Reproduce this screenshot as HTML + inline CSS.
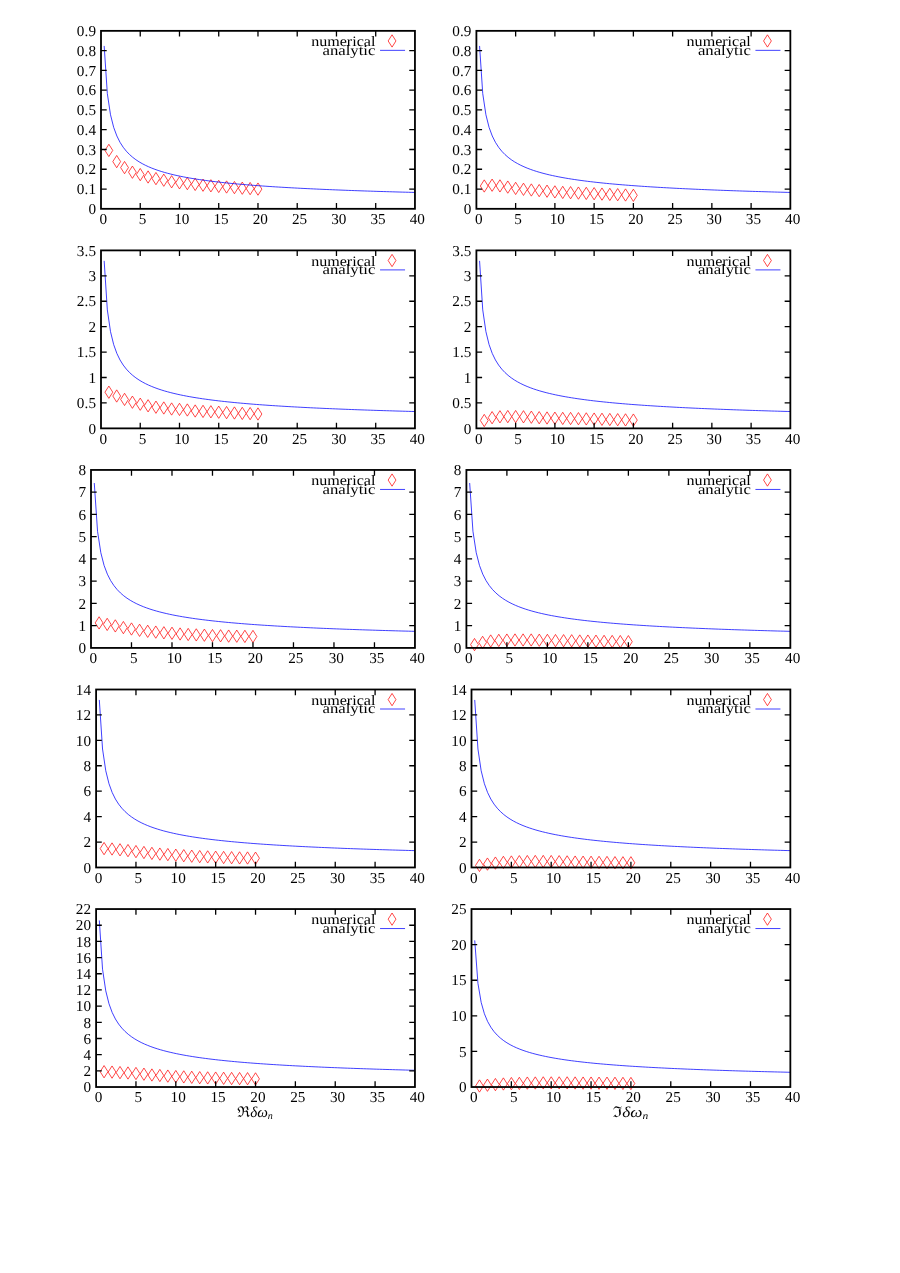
<!DOCTYPE html><html><head><meta charset="utf-8"><title>plots</title><style>html,body{margin:0;padding:0;background:#fff}svg{display:block;will-change:transform}text{text-rendering:geometricPrecision;font-family:"Liberation Serif",serif;fill:#000}</style></head><body>
<svg width="900" height="1273" viewBox="0 0 900 1273">
<rect width="900" height="1273" fill="#fff"/>
<g><text x="96.10" y="214.02" font-size="15.2" text-anchor="end" letter-spacing="0.1">0</text><text x="96.10" y="194.25" font-size="15.2" text-anchor="end" letter-spacing="0.1">0.1</text><text x="96.10" y="174.47" font-size="15.2" text-anchor="end" letter-spacing="0.1">0.2</text><text x="96.10" y="154.70" font-size="15.2" text-anchor="end" letter-spacing="0.1">0.3</text><text x="96.10" y="134.92" font-size="15.2" text-anchor="end" letter-spacing="0.1">0.4</text><text x="96.10" y="115.15" font-size="15.2" text-anchor="end" letter-spacing="0.1">0.5</text><text x="96.10" y="95.37" font-size="15.2" text-anchor="end" letter-spacing="0.1">0.6</text><text x="96.10" y="75.60" font-size="15.2" text-anchor="end" letter-spacing="0.1">0.7</text><text x="96.10" y="55.82" font-size="15.2" text-anchor="end" letter-spacing="0.1">0.8</text><text x="96.10" y="36.05" font-size="15.2" text-anchor="end" letter-spacing="0.1">0.9</text><text x="103.35" y="224.22" font-size="15.2" text-anchor="middle">0</text><text x="142.59" y="224.22" font-size="15.2" text-anchor="middle">5</text><text x="181.84" y="224.22" font-size="15.2" text-anchor="middle">10</text><text x="221.08" y="224.22" font-size="15.2" text-anchor="middle">15</text><text x="260.33" y="224.22" font-size="15.2" text-anchor="middle">20</text><text x="299.57" y="224.22" font-size="15.2" text-anchor="middle">25</text><text x="338.81" y="224.22" font-size="15.2" text-anchor="middle">30</text><text x="378.06" y="224.22" font-size="15.2" text-anchor="middle">35</text><text x="417.30" y="224.22" font-size="15.2" text-anchor="middle">40</text><path d="M108.85 144.25l3.9 6.15l-3.9 6.15l-3.9 -6.15zM116.70 155.45l3.9 6.15l-3.9 6.15l-3.9 -6.15zM124.55 161.45l3.9 6.15l-3.9 6.15l-3.9 -6.15zM132.40 166.05l3.9 6.15l-3.9 6.15l-3.9 -6.15zM140.24 168.45l3.9 6.15l-3.9 6.15l-3.9 -6.15zM148.09 170.85l3.9 6.15l-3.9 6.15l-3.9 -6.15zM155.94 172.45l3.9 6.15l-3.9 6.15l-3.9 -6.15zM163.79 174.05l3.9 6.15l-3.9 6.15l-3.9 -6.15zM171.64 175.65l3.9 6.15l-3.9 6.15l-3.9 -6.15zM179.49 176.65l3.9 6.15l-3.9 6.15l-3.9 -6.15zM187.34 177.45l3.9 6.15l-3.9 6.15l-3.9 -6.15zM195.19 178.25l3.9 6.15l-3.9 6.15l-3.9 -6.15zM203.03 179.05l3.9 6.15l-3.9 6.15l-3.9 -6.15zM210.88 179.65l3.9 6.15l-3.9 6.15l-3.9 -6.15zM218.73 180.25l3.9 6.15l-3.9 6.15l-3.9 -6.15zM226.58 180.85l3.9 6.15l-3.9 6.15l-3.9 -6.15zM234.43 181.45l3.9 6.15l-3.9 6.15l-3.9 -6.15zM242.28 182.05l3.9 6.15l-3.9 6.15l-3.9 -6.15zM250.13 182.45l3.9 6.15l-3.9 6.15l-3.9 -6.15zM257.98 182.95l3.9 6.15l-3.9 6.15l-3.9 -6.15zM392.05 34.80l3.9 6.15l-3.9 6.15l-3.9 -6.15z" fill="none" stroke="#ff0000" stroke-width="0.72"/><polyline points="104.17,45.93 107.34,93.64 110.51,114.78 113.68,127.38 116.86,135.97 120.03,142.32 123.20,147.25 126.37,151.23 129.54,154.52 132.71,157.31 135.88,159.71 139.05,161.80 142.23,163.64 145.40,165.29 148.57,166.76 151.74,168.10 154.91,169.31 158.08,170.43 161.25,171.45 164.42,172.40 167.60,173.27 170.77,174.09 173.94,174.86 177.11,175.57 180.28,176.24 183.45,176.87 186.62,177.47 189.79,178.04 192.97,178.57 196.14,179.08 199.31,179.56 202.48,180.03 205.65,180.46 208.82,180.88 211.99,181.29 215.16,181.67 218.33,182.04 221.51,182.40 224.68,182.74 227.85,183.07 231.02,183.38 234.19,183.69 237.36,183.98 240.53,184.26 243.70,184.54 246.88,184.80 250.05,185.06 253.22,185.31 256.39,185.55 259.56,185.78 262.73,186.01 265.90,186.23 269.07,186.45 272.25,186.65 275.42,186.86 278.59,187.05 281.76,187.24 284.93,187.43 288.10,187.61 291.27,187.79 294.44,187.96 297.62,188.13 300.79,188.30 303.96,188.46 307.13,188.62 310.30,188.77 313.47,188.92 316.64,189.07 319.81,189.21 322.98,189.35 326.16,189.49 329.33,189.62 332.50,189.76 335.67,189.88 338.84,190.01 342.01,190.14 345.18,190.26 348.35,190.38 351.53,190.49 354.70,190.61 357.87,190.72 361.04,190.83 364.21,190.94 367.38,191.05 370.55,191.15 373.72,191.26 376.90,191.36 380.07,191.46 383.24,191.55 386.41,191.65 389.58,191.74 392.75,191.84 395.92,191.93 399.09,192.02 402.27,192.11 405.44,192.20 408.61,192.28 411.78,192.37 414.95,192.45" fill="none" stroke="#0000ff" stroke-width="0.75"/><path d="M140.24 208.82v-5.7M140.24 30.85v5.7M179.49 208.82v-5.7M179.49 30.85v5.7M218.73 208.82v-5.7M218.73 30.85v5.7M257.98 208.82v-5.7M257.98 30.85v5.7M297.22 208.82v-5.7M297.22 30.85v5.7M336.46 208.82v-5.7M336.46 30.85v5.7M375.71 208.82v-5.7M375.71 30.85v5.7M101.00 189.05h5.7M414.95 189.05h-5.7M101.00 169.27h5.7M414.95 169.27h-5.7M101.00 149.50h5.7M414.95 149.50h-5.7M101.00 129.72h5.7M414.95 129.72h-5.7M101.00 109.95h5.7M414.95 109.95h-5.7M101.00 90.17h5.7M414.95 90.17h-5.7M101.00 70.40h5.7M414.95 70.40h-5.7M101.00 50.62h5.7M414.95 50.62h-5.7" stroke="#000" stroke-width="1.3" fill="none"/><rect x="101.00" y="30.85" width="313.95" height="177.97" fill="none" stroke="#000" stroke-width="1.8"/><text x="375.45" y="46.00" font-size="14.4" text-anchor="end" textLength="64.3" lengthAdjust="spacingAndGlyphs">numerical</text><text x="375.45" y="54.55" font-size="14.4" text-anchor="end" textLength="52.9" lengthAdjust="spacingAndGlyphs">analytic</text><path d="M380.05 50.35h25" stroke="#0000ff" stroke-width="0.75" fill="none"/></g>
<g><text x="471.50" y="214.02" font-size="15.2" text-anchor="end" letter-spacing="0.1">0</text><text x="471.50" y="194.25" font-size="15.2" text-anchor="end" letter-spacing="0.1">0.1</text><text x="471.50" y="174.47" font-size="15.2" text-anchor="end" letter-spacing="0.1">0.2</text><text x="471.50" y="154.70" font-size="15.2" text-anchor="end" letter-spacing="0.1">0.3</text><text x="471.50" y="134.92" font-size="15.2" text-anchor="end" letter-spacing="0.1">0.4</text><text x="471.50" y="115.15" font-size="15.2" text-anchor="end" letter-spacing="0.1">0.5</text><text x="471.50" y="95.37" font-size="15.2" text-anchor="end" letter-spacing="0.1">0.6</text><text x="471.50" y="75.60" font-size="15.2" text-anchor="end" letter-spacing="0.1">0.7</text><text x="471.50" y="55.82" font-size="15.2" text-anchor="end" letter-spacing="0.1">0.8</text><text x="471.50" y="36.05" font-size="15.2" text-anchor="end" letter-spacing="0.1">0.9</text><text x="478.75" y="224.22" font-size="15.2" text-anchor="middle">0</text><text x="517.99" y="224.22" font-size="15.2" text-anchor="middle">5</text><text x="557.24" y="224.22" font-size="15.2" text-anchor="middle">10</text><text x="596.48" y="224.22" font-size="15.2" text-anchor="middle">15</text><text x="635.73" y="224.22" font-size="15.2" text-anchor="middle">20</text><text x="674.97" y="224.22" font-size="15.2" text-anchor="middle">25</text><text x="714.21" y="224.22" font-size="15.2" text-anchor="middle">30</text><text x="753.46" y="224.22" font-size="15.2" text-anchor="middle">35</text><text x="792.70" y="224.22" font-size="15.2" text-anchor="middle">40</text><path d="M484.25 179.85l3.9 6.15l-3.9 6.15l-3.9 -6.15zM492.10 179.05l3.9 6.15l-3.9 6.15l-3.9 -6.15zM499.95 179.75l3.9 6.15l-3.9 6.15l-3.9 -6.15zM507.79 180.95l3.9 6.15l-3.9 6.15l-3.9 -6.15zM515.64 182.25l3.9 6.15l-3.9 6.15l-3.9 -6.15zM523.49 183.15l3.9 6.15l-3.9 6.15l-3.9 -6.15zM531.34 183.85l3.9 6.15l-3.9 6.15l-3.9 -6.15zM539.19 184.45l3.9 6.15l-3.9 6.15l-3.9 -6.15zM547.04 185.05l3.9 6.15l-3.9 6.15l-3.9 -6.15zM554.89 185.75l3.9 6.15l-3.9 6.15l-3.9 -6.15zM562.74 186.25l3.9 6.15l-3.9 6.15l-3.9 -6.15zM570.58 186.55l3.9 6.15l-3.9 6.15l-3.9 -6.15zM578.43 186.95l3.9 6.15l-3.9 6.15l-3.9 -6.15zM586.28 187.25l3.9 6.15l-3.9 6.15l-3.9 -6.15zM594.13 187.55l3.9 6.15l-3.9 6.15l-3.9 -6.15zM601.98 187.95l3.9 6.15l-3.9 6.15l-3.9 -6.15zM609.83 188.25l3.9 6.15l-3.9 6.15l-3.9 -6.15zM617.68 188.55l3.9 6.15l-3.9 6.15l-3.9 -6.15zM625.53 188.85l3.9 6.15l-3.9 6.15l-3.9 -6.15zM633.38 189.15l3.9 6.15l-3.9 6.15l-3.9 -6.15zM767.45 34.80l3.9 6.15l-3.9 6.15l-3.9 -6.15z" fill="none" stroke="#ff0000" stroke-width="0.72"/><polyline points="479.57,45.93 482.74,93.64 485.91,114.78 489.08,127.38 492.26,135.97 495.43,142.32 498.60,147.25 501.77,151.23 504.94,154.52 508.11,157.31 511.28,159.71 514.45,161.80 517.63,163.64 520.80,165.29 523.97,166.76 527.14,168.10 530.31,169.31 533.48,170.43 536.65,171.45 539.82,172.40 543.00,173.27 546.17,174.09 549.34,174.86 552.51,175.57 555.68,176.24 558.85,176.87 562.02,177.47 565.19,178.04 568.37,178.57 571.54,179.08 574.71,179.56 577.88,180.03 581.05,180.46 584.22,180.88 587.39,181.29 590.56,181.67 593.73,182.04 596.91,182.40 600.08,182.74 603.25,183.07 606.42,183.38 609.59,183.69 612.76,183.98 615.93,184.26 619.10,184.54 622.28,184.80 625.45,185.06 628.62,185.31 631.79,185.55 634.96,185.78 638.13,186.01 641.30,186.23 644.47,186.45 647.65,186.65 650.82,186.86 653.99,187.05 657.16,187.24 660.33,187.43 663.50,187.61 666.67,187.79 669.84,187.96 673.02,188.13 676.19,188.30 679.36,188.46 682.53,188.62 685.70,188.77 688.87,188.92 692.04,189.07 695.21,189.21 698.38,189.35 701.56,189.49 704.73,189.62 707.90,189.76 711.07,189.88 714.24,190.01 717.41,190.14 720.58,190.26 723.75,190.38 726.93,190.49 730.10,190.61 733.27,190.72 736.44,190.83 739.61,190.94 742.78,191.05 745.95,191.15 749.12,191.26 752.30,191.36 755.47,191.46 758.64,191.55 761.81,191.65 764.98,191.74 768.15,191.84 771.32,191.93 774.49,192.02 777.67,192.11 780.84,192.20 784.01,192.28 787.18,192.37 790.35,192.45" fill="none" stroke="#0000ff" stroke-width="0.75"/><path d="M515.64 208.82v-5.7M515.64 30.85v5.7M554.89 208.82v-5.7M554.89 30.85v5.7M594.13 208.82v-5.7M594.13 30.85v5.7M633.38 208.82v-5.7M633.38 30.85v5.7M672.62 208.82v-5.7M672.62 30.85v5.7M711.86 208.82v-5.7M711.86 30.85v5.7M751.11 208.82v-5.7M751.11 30.85v5.7M476.40 189.05h5.7M790.35 189.05h-5.7M476.40 169.27h5.7M790.35 169.27h-5.7M476.40 149.50h5.7M790.35 149.50h-5.7M476.40 129.72h5.7M790.35 129.72h-5.7M476.40 109.95h5.7M790.35 109.95h-5.7M476.40 90.17h5.7M790.35 90.17h-5.7M476.40 70.40h5.7M790.35 70.40h-5.7M476.40 50.62h5.7M790.35 50.62h-5.7" stroke="#000" stroke-width="1.3" fill="none"/><rect x="476.40" y="30.85" width="313.95" height="177.97" fill="none" stroke="#000" stroke-width="1.8"/><text x="750.85" y="46.00" font-size="14.4" text-anchor="end" textLength="64.3" lengthAdjust="spacingAndGlyphs">numerical</text><text x="750.85" y="54.55" font-size="14.4" text-anchor="end" textLength="52.9" lengthAdjust="spacingAndGlyphs">analytic</text><path d="M755.45 50.35h25" stroke="#0000ff" stroke-width="0.75" fill="none"/></g>
<g><text x="96.10" y="433.57" font-size="15.2" text-anchor="end" letter-spacing="0.1">0</text><text x="96.10" y="408.15" font-size="15.2" text-anchor="end" letter-spacing="0.1">0.5</text><text x="96.10" y="382.72" font-size="15.2" text-anchor="end" letter-spacing="0.1">1</text><text x="96.10" y="357.30" font-size="15.2" text-anchor="end" letter-spacing="0.1">1.5</text><text x="96.10" y="331.87" font-size="15.2" text-anchor="end" letter-spacing="0.1">2</text><text x="96.10" y="306.45" font-size="15.2" text-anchor="end" letter-spacing="0.1">2.5</text><text x="96.10" y="281.02" font-size="15.2" text-anchor="end" letter-spacing="0.1">3</text><text x="96.10" y="255.60" font-size="15.2" text-anchor="end" letter-spacing="0.1">3.5</text><text x="103.35" y="443.77" font-size="15.2" text-anchor="middle">0</text><text x="142.59" y="443.77" font-size="15.2" text-anchor="middle">5</text><text x="181.84" y="443.77" font-size="15.2" text-anchor="middle">10</text><text x="221.08" y="443.77" font-size="15.2" text-anchor="middle">15</text><text x="260.33" y="443.77" font-size="15.2" text-anchor="middle">20</text><text x="299.57" y="443.77" font-size="15.2" text-anchor="middle">25</text><text x="338.81" y="443.77" font-size="15.2" text-anchor="middle">30</text><text x="378.06" y="443.77" font-size="15.2" text-anchor="middle">35</text><text x="417.30" y="443.77" font-size="15.2" text-anchor="middle">40</text><path d="M108.85 386.05l3.9 6.15l-3.9 6.15l-3.9 -6.15zM116.70 389.85l3.9 6.15l-3.9 6.15l-3.9 -6.15zM124.55 393.25l3.9 6.15l-3.9 6.15l-3.9 -6.15zM132.40 396.05l3.9 6.15l-3.9 6.15l-3.9 -6.15zM140.24 398.05l3.9 6.15l-3.9 6.15l-3.9 -6.15zM148.09 399.65l3.9 6.15l-3.9 6.15l-3.9 -6.15zM155.94 401.05l3.9 6.15l-3.9 6.15l-3.9 -6.15zM163.79 401.85l3.9 6.15l-3.9 6.15l-3.9 -6.15zM171.64 402.85l3.9 6.15l-3.9 6.15l-3.9 -6.15zM179.49 403.25l3.9 6.15l-3.9 6.15l-3.9 -6.15zM187.34 403.85l3.9 6.15l-3.9 6.15l-3.9 -6.15zM195.19 404.85l3.9 6.15l-3.9 6.15l-3.9 -6.15zM203.03 405.25l3.9 6.15l-3.9 6.15l-3.9 -6.15zM210.88 405.65l3.9 6.15l-3.9 6.15l-3.9 -6.15zM218.73 406.05l3.9 6.15l-3.9 6.15l-3.9 -6.15zM226.58 406.45l3.9 6.15l-3.9 6.15l-3.9 -6.15zM234.43 406.85l3.9 6.15l-3.9 6.15l-3.9 -6.15zM242.28 407.25l3.9 6.15l-3.9 6.15l-3.9 -6.15zM250.13 407.45l3.9 6.15l-3.9 6.15l-3.9 -6.15zM257.98 407.85l3.9 6.15l-3.9 6.15l-3.9 -6.15zM392.05 254.35l3.9 6.15l-3.9 6.15l-3.9 -6.15z" fill="none" stroke="#ff0000" stroke-width="0.72"/><polyline points="104.17,260.83 107.34,309.90 110.51,331.64 113.68,344.60 116.86,353.44 120.03,359.97 123.20,365.04 126.37,369.13 129.54,372.52 132.71,375.39 135.88,377.85 139.05,380.00 142.23,381.90 145.40,383.59 148.57,385.11 151.74,386.48 154.91,387.73 158.08,388.88 161.25,389.93 164.42,390.91 167.60,391.81 170.77,392.65 173.94,393.43 177.11,394.17 180.28,394.86 183.45,395.51 186.62,396.13 189.79,396.71 192.97,397.26 196.14,397.78 199.31,398.28 202.48,398.75 205.65,399.20 208.82,399.64 211.99,400.05 215.16,400.45 218.33,400.83 221.51,401.19 224.68,401.54 227.85,401.88 231.02,402.20 234.19,402.52 237.36,402.82 240.53,403.11 243.70,403.39 246.88,403.67 250.05,403.93 253.22,404.19 256.39,404.44 259.56,404.68 262.73,404.91 265.90,405.14 269.07,405.36 272.25,405.57 275.42,405.78 278.59,405.98 281.76,406.18 284.93,406.37 288.10,406.56 291.27,406.74 294.44,406.92 297.62,407.09 300.79,407.26 303.96,407.43 307.13,407.59 310.30,407.75 313.47,407.90 316.64,408.05 319.81,408.20 322.98,408.34 326.16,408.49 329.33,408.62 332.50,408.76 335.67,408.89 338.84,409.02 342.01,409.15 345.18,409.28 348.35,409.40 351.53,409.52 354.70,409.64 357.87,409.75 361.04,409.87 364.21,409.98 367.38,410.09 370.55,410.20 373.72,410.30 376.90,410.41 380.07,410.51 383.24,410.61 386.41,410.71 389.58,410.81 392.75,410.90 395.92,411.00 399.09,411.09 402.27,411.18 405.44,411.27 408.61,411.36 411.78,411.45 414.95,411.53" fill="none" stroke="#0000ff" stroke-width="0.75"/><path d="M140.24 428.37v-5.7M140.24 250.40v5.7M179.49 428.37v-5.7M179.49 250.40v5.7M218.73 428.37v-5.7M218.73 250.40v5.7M257.98 428.37v-5.7M257.98 250.40v5.7M297.22 428.37v-5.7M297.22 250.40v5.7M336.46 428.37v-5.7M336.46 250.40v5.7M375.71 428.37v-5.7M375.71 250.40v5.7M101.00 402.95h5.7M414.95 402.95h-5.7M101.00 377.52h5.7M414.95 377.52h-5.7M101.00 352.10h5.7M414.95 352.10h-5.7M101.00 326.67h5.7M414.95 326.67h-5.7M101.00 301.25h5.7M414.95 301.25h-5.7M101.00 275.82h5.7M414.95 275.82h-5.7" stroke="#000" stroke-width="1.3" fill="none"/><rect x="101.00" y="250.40" width="313.95" height="177.97" fill="none" stroke="#000" stroke-width="1.8"/><text x="375.45" y="265.55" font-size="14.4" text-anchor="end" textLength="64.3" lengthAdjust="spacingAndGlyphs">numerical</text><text x="375.45" y="274.10" font-size="14.4" text-anchor="end" textLength="52.9" lengthAdjust="spacingAndGlyphs">analytic</text><path d="M380.05 269.90h25" stroke="#0000ff" stroke-width="0.75" fill="none"/></g>
<g><text x="471.50" y="433.57" font-size="15.2" text-anchor="end" letter-spacing="0.1">0</text><text x="471.50" y="408.15" font-size="15.2" text-anchor="end" letter-spacing="0.1">0.5</text><text x="471.50" y="382.72" font-size="15.2" text-anchor="end" letter-spacing="0.1">1</text><text x="471.50" y="357.30" font-size="15.2" text-anchor="end" letter-spacing="0.1">1.5</text><text x="471.50" y="331.87" font-size="15.2" text-anchor="end" letter-spacing="0.1">2</text><text x="471.50" y="306.45" font-size="15.2" text-anchor="end" letter-spacing="0.1">2.5</text><text x="471.50" y="281.02" font-size="15.2" text-anchor="end" letter-spacing="0.1">3</text><text x="471.50" y="255.60" font-size="15.2" text-anchor="end" letter-spacing="0.1">3.5</text><text x="478.75" y="443.77" font-size="15.2" text-anchor="middle">0</text><text x="517.99" y="443.77" font-size="15.2" text-anchor="middle">5</text><text x="557.24" y="443.77" font-size="15.2" text-anchor="middle">10</text><text x="596.48" y="443.77" font-size="15.2" text-anchor="middle">15</text><text x="635.73" y="443.77" font-size="15.2" text-anchor="middle">20</text><text x="674.97" y="443.77" font-size="15.2" text-anchor="middle">25</text><text x="714.21" y="443.77" font-size="15.2" text-anchor="middle">30</text><text x="753.46" y="443.77" font-size="15.2" text-anchor="middle">35</text><text x="792.70" y="443.77" font-size="15.2" text-anchor="middle">40</text><path d="M484.25 414.35l3.9 6.15l-3.9 6.15l-3.9 -6.15zM492.10 411.55l3.9 6.15l-3.9 6.15l-3.9 -6.15zM499.95 410.65l3.9 6.15l-3.9 6.15l-3.9 -6.15zM507.79 410.45l3.9 6.15l-3.9 6.15l-3.9 -6.15zM515.64 410.45l3.9 6.15l-3.9 6.15l-3.9 -6.15zM523.49 410.65l3.9 6.15l-3.9 6.15l-3.9 -6.15zM531.34 411.05l3.9 6.15l-3.9 6.15l-3.9 -6.15zM539.19 411.55l3.9 6.15l-3.9 6.15l-3.9 -6.15zM547.04 411.85l3.9 6.15l-3.9 6.15l-3.9 -6.15zM554.89 412.05l3.9 6.15l-3.9 6.15l-3.9 -6.15zM562.74 412.25l3.9 6.15l-3.9 6.15l-3.9 -6.15zM570.58 412.35l3.9 6.15l-3.9 6.15l-3.9 -6.15zM578.43 412.55l3.9 6.15l-3.9 6.15l-3.9 -6.15zM586.28 412.75l3.9 6.15l-3.9 6.15l-3.9 -6.15zM594.13 412.95l3.9 6.15l-3.9 6.15l-3.9 -6.15zM601.98 413.15l3.9 6.15l-3.9 6.15l-3.9 -6.15zM609.83 413.35l3.9 6.15l-3.9 6.15l-3.9 -6.15zM617.68 413.55l3.9 6.15l-3.9 6.15l-3.9 -6.15zM625.53 413.75l3.9 6.15l-3.9 6.15l-3.9 -6.15zM633.38 413.95l3.9 6.15l-3.9 6.15l-3.9 -6.15zM767.45 254.35l3.9 6.15l-3.9 6.15l-3.9 -6.15z" fill="none" stroke="#ff0000" stroke-width="0.72"/><polyline points="479.57,260.83 482.74,309.90 485.91,331.64 489.08,344.60 492.26,353.44 495.43,359.97 498.60,365.04 501.77,369.13 504.94,372.52 508.11,375.39 511.28,377.85 514.45,380.00 517.63,381.90 520.80,383.59 523.97,385.11 527.14,386.48 530.31,387.73 533.48,388.88 536.65,389.93 539.82,390.91 543.00,391.81 546.17,392.65 549.34,393.43 552.51,394.17 555.68,394.86 558.85,395.51 562.02,396.13 565.19,396.71 568.37,397.26 571.54,397.78 574.71,398.28 577.88,398.75 581.05,399.20 584.22,399.64 587.39,400.05 590.56,400.45 593.73,400.83 596.91,401.19 600.08,401.54 603.25,401.88 606.42,402.20 609.59,402.52 612.76,402.82 615.93,403.11 619.10,403.39 622.28,403.67 625.45,403.93 628.62,404.19 631.79,404.44 634.96,404.68 638.13,404.91 641.30,405.14 644.47,405.36 647.65,405.57 650.82,405.78 653.99,405.98 657.16,406.18 660.33,406.37 663.50,406.56 666.67,406.74 669.84,406.92 673.02,407.09 676.19,407.26 679.36,407.43 682.53,407.59 685.70,407.75 688.87,407.90 692.04,408.05 695.21,408.20 698.38,408.34 701.56,408.49 704.73,408.62 707.90,408.76 711.07,408.89 714.24,409.02 717.41,409.15 720.58,409.28 723.75,409.40 726.93,409.52 730.10,409.64 733.27,409.75 736.44,409.87 739.61,409.98 742.78,410.09 745.95,410.20 749.12,410.30 752.30,410.41 755.47,410.51 758.64,410.61 761.81,410.71 764.98,410.81 768.15,410.90 771.32,411.00 774.49,411.09 777.67,411.18 780.84,411.27 784.01,411.36 787.18,411.45 790.35,411.53" fill="none" stroke="#0000ff" stroke-width="0.75"/><path d="M515.64 428.37v-5.7M515.64 250.40v5.7M554.89 428.37v-5.7M554.89 250.40v5.7M594.13 428.37v-5.7M594.13 250.40v5.7M633.38 428.37v-5.7M633.38 250.40v5.7M672.62 428.37v-5.7M672.62 250.40v5.7M711.86 428.37v-5.7M711.86 250.40v5.7M751.11 428.37v-5.7M751.11 250.40v5.7M476.40 402.95h5.7M790.35 402.95h-5.7M476.40 377.52h5.7M790.35 377.52h-5.7M476.40 352.10h5.7M790.35 352.10h-5.7M476.40 326.67h5.7M790.35 326.67h-5.7M476.40 301.25h5.7M790.35 301.25h-5.7M476.40 275.82h5.7M790.35 275.82h-5.7" stroke="#000" stroke-width="1.3" fill="none"/><rect x="476.40" y="250.40" width="313.95" height="177.97" fill="none" stroke="#000" stroke-width="1.8"/><text x="750.85" y="265.55" font-size="14.4" text-anchor="end" textLength="64.3" lengthAdjust="spacingAndGlyphs">numerical</text><text x="750.85" y="274.10" font-size="14.4" text-anchor="end" textLength="52.9" lengthAdjust="spacingAndGlyphs">analytic</text><path d="M755.45 269.90h25" stroke="#0000ff" stroke-width="0.75" fill="none"/></g>
<g><text x="86.10" y="653.12" font-size="15.2" text-anchor="end" letter-spacing="0.1">0</text><text x="86.10" y="630.87" font-size="15.2" text-anchor="end" letter-spacing="0.1">1</text><text x="86.10" y="608.63" font-size="15.2" text-anchor="end" letter-spacing="0.1">2</text><text x="86.10" y="586.38" font-size="15.2" text-anchor="end" letter-spacing="0.1">3</text><text x="86.10" y="564.14" font-size="15.2" text-anchor="end" letter-spacing="0.1">4</text><text x="86.10" y="541.89" font-size="15.2" text-anchor="end" letter-spacing="0.1">5</text><text x="86.10" y="519.64" font-size="15.2" text-anchor="end" letter-spacing="0.1">6</text><text x="86.10" y="497.40" font-size="15.2" text-anchor="end" letter-spacing="0.1">7</text><text x="86.10" y="475.15" font-size="15.2" text-anchor="end" letter-spacing="0.1">8</text><text x="93.35" y="663.32" font-size="15.2" text-anchor="middle">0</text><text x="133.84" y="663.32" font-size="15.2" text-anchor="middle">5</text><text x="174.34" y="663.32" font-size="15.2" text-anchor="middle">10</text><text x="214.83" y="663.32" font-size="15.2" text-anchor="middle">15</text><text x="255.32" y="663.32" font-size="15.2" text-anchor="middle">20</text><text x="295.82" y="663.32" font-size="15.2" text-anchor="middle">25</text><text x="336.31" y="663.32" font-size="15.2" text-anchor="middle">30</text><text x="376.81" y="663.32" font-size="15.2" text-anchor="middle">35</text><text x="417.30" y="663.32" font-size="15.2" text-anchor="middle">40</text><path d="M99.10 616.75l3.9 6.15l-3.9 6.15l-3.9 -6.15zM107.20 618.25l3.9 6.15l-3.9 6.15l-3.9 -6.15zM115.30 619.75l3.9 6.15l-3.9 6.15l-3.9 -6.15zM123.39 621.45l3.9 6.15l-3.9 6.15l-3.9 -6.15zM131.49 622.85l3.9 6.15l-3.9 6.15l-3.9 -6.15zM139.59 624.15l3.9 6.15l-3.9 6.15l-3.9 -6.15zM147.69 625.15l3.9 6.15l-3.9 6.15l-3.9 -6.15zM155.79 625.95l3.9 6.15l-3.9 6.15l-3.9 -6.15zM163.89 626.65l3.9 6.15l-3.9 6.15l-3.9 -6.15zM171.99 627.15l3.9 6.15l-3.9 6.15l-3.9 -6.15zM180.09 627.85l3.9 6.15l-3.9 6.15l-3.9 -6.15zM188.19 628.35l3.9 6.15l-3.9 6.15l-3.9 -6.15zM196.28 628.75l3.9 6.15l-3.9 6.15l-3.9 -6.15zM204.38 629.05l3.9 6.15l-3.9 6.15l-3.9 -6.15zM212.48 629.45l3.9 6.15l-3.9 6.15l-3.9 -6.15zM220.58 629.65l3.9 6.15l-3.9 6.15l-3.9 -6.15zM228.68 629.95l3.9 6.15l-3.9 6.15l-3.9 -6.15zM236.78 630.05l3.9 6.15l-3.9 6.15l-3.9 -6.15zM244.88 630.25l3.9 6.15l-3.9 6.15l-3.9 -6.15zM252.97 630.35l3.9 6.15l-3.9 6.15l-3.9 -6.15zM392.05 473.90l3.9 6.15l-3.9 6.15l-3.9 -6.15z" fill="none" stroke="#ff0000" stroke-width="0.72"/><polyline points="94.27,483.00 97.54,531.30 100.82,552.70 104.09,565.46 107.36,574.16 110.63,580.59 113.91,585.58 117.18,589.61 120.45,592.95 123.72,595.77 126.99,598.19 130.27,600.31 133.54,602.18 136.81,603.84 140.08,605.34 143.36,606.69 146.63,607.92 149.90,609.05 153.17,610.08 156.44,611.04 159.72,611.93 162.99,612.76 166.26,613.53 169.53,614.25 172.81,614.94 176.08,615.58 179.35,616.18 182.62,616.75 185.89,617.29 189.17,617.81 192.44,618.30 195.71,618.77 198.98,619.21 202.26,619.64 205.53,620.04 208.80,620.43 212.07,620.81 215.34,621.17 218.62,621.51 221.89,621.84 225.16,622.16 228.43,622.47 231.71,622.77 234.98,623.06 238.25,623.33 241.52,623.60 244.79,623.86 248.07,624.12 251.34,624.36 254.61,624.60 257.88,624.83 261.16,625.05 264.43,625.27 267.70,625.48 270.97,625.68 274.24,625.88 277.52,626.08 280.79,626.26 284.06,626.45 287.33,626.63 290.61,626.80 293.88,626.97 297.15,627.14 300.42,627.30 303.69,627.46 306.97,627.62 310.24,627.77 313.51,627.92 316.78,628.07 320.06,628.21 323.33,628.35 326.60,628.48 329.87,628.62 333.14,628.75 336.42,628.88 339.69,629.00 342.96,629.13 346.23,629.25 349.51,629.36 352.78,629.48 356.05,629.60 359.32,629.71 362.59,629.82 365.87,629.93 369.14,630.03 372.41,630.14 375.68,630.24 378.96,630.34 382.23,630.44 385.50,630.54 388.77,630.63 392.04,630.73 395.32,630.82 398.59,630.91 401.86,631.00 405.13,631.09 408.41,631.17 411.68,631.26 414.95,631.34" fill="none" stroke="#0000ff" stroke-width="0.75"/><path d="M131.49 647.92v-5.7M131.49 469.95v5.7M171.99 647.92v-5.7M171.99 469.95v5.7M212.48 647.92v-5.7M212.48 469.95v5.7M252.97 647.92v-5.7M252.97 469.95v5.7M293.47 647.92v-5.7M293.47 469.95v5.7M333.96 647.92v-5.7M333.96 469.95v5.7M374.46 647.92v-5.7M374.46 469.95v5.7M91.00 625.67h5.7M414.95 625.67h-5.7M91.00 603.43h5.7M414.95 603.43h-5.7M91.00 581.18h5.7M414.95 581.18h-5.7M91.00 558.94h5.7M414.95 558.94h-5.7M91.00 536.69h5.7M414.95 536.69h-5.7M91.00 514.44h5.7M414.95 514.44h-5.7M91.00 492.20h5.7M414.95 492.20h-5.7" stroke="#000" stroke-width="1.3" fill="none"/><rect x="91.00" y="469.95" width="323.95" height="177.97" fill="none" stroke="#000" stroke-width="1.8"/><text x="375.45" y="485.10" font-size="14.4" text-anchor="end" textLength="64.3" lengthAdjust="spacingAndGlyphs">numerical</text><text x="375.45" y="493.65" font-size="14.4" text-anchor="end" textLength="52.9" lengthAdjust="spacingAndGlyphs">analytic</text><path d="M380.05 489.45h25" stroke="#0000ff" stroke-width="0.75" fill="none"/></g>
<g><text x="461.50" y="653.12" font-size="15.2" text-anchor="end" letter-spacing="0.1">0</text><text x="461.50" y="630.87" font-size="15.2" text-anchor="end" letter-spacing="0.1">1</text><text x="461.50" y="608.63" font-size="15.2" text-anchor="end" letter-spacing="0.1">2</text><text x="461.50" y="586.38" font-size="15.2" text-anchor="end" letter-spacing="0.1">3</text><text x="461.50" y="564.14" font-size="15.2" text-anchor="end" letter-spacing="0.1">4</text><text x="461.50" y="541.89" font-size="15.2" text-anchor="end" letter-spacing="0.1">5</text><text x="461.50" y="519.64" font-size="15.2" text-anchor="end" letter-spacing="0.1">6</text><text x="461.50" y="497.40" font-size="15.2" text-anchor="end" letter-spacing="0.1">7</text><text x="461.50" y="475.15" font-size="15.2" text-anchor="end" letter-spacing="0.1">8</text><text x="468.75" y="663.32" font-size="15.2" text-anchor="middle">0</text><text x="509.24" y="663.32" font-size="15.2" text-anchor="middle">5</text><text x="549.74" y="663.32" font-size="15.2" text-anchor="middle">10</text><text x="590.23" y="663.32" font-size="15.2" text-anchor="middle">15</text><text x="630.73" y="663.32" font-size="15.2" text-anchor="middle">20</text><text x="671.22" y="663.32" font-size="15.2" text-anchor="middle">25</text><text x="711.71" y="663.32" font-size="15.2" text-anchor="middle">30</text><text x="752.21" y="663.32" font-size="15.2" text-anchor="middle">35</text><text x="792.70" y="663.32" font-size="15.2" text-anchor="middle">40</text><path d="M474.50 638.45l3.9 6.15l-3.9 6.15l-3.9 -6.15zM482.60 636.25l3.9 6.15l-3.9 6.15l-3.9 -6.15zM490.70 634.85l3.9 6.15l-3.9 6.15l-3.9 -6.15zM498.79 634.25l3.9 6.15l-3.9 6.15l-3.9 -6.15zM506.89 633.95l3.9 6.15l-3.9 6.15l-3.9 -6.15zM514.99 633.85l3.9 6.15l-3.9 6.15l-3.9 -6.15zM523.09 633.85l3.9 6.15l-3.9 6.15l-3.9 -6.15zM531.19 633.85l3.9 6.15l-3.9 6.15l-3.9 -6.15zM539.29 634.05l3.9 6.15l-3.9 6.15l-3.9 -6.15zM547.39 634.25l3.9 6.15l-3.9 6.15l-3.9 -6.15zM555.49 634.45l3.9 6.15l-3.9 6.15l-3.9 -6.15zM563.58 634.55l3.9 6.15l-3.9 6.15l-3.9 -6.15zM571.68 634.65l3.9 6.15l-3.9 6.15l-3.9 -6.15zM579.78 634.85l3.9 6.15l-3.9 6.15l-3.9 -6.15zM587.88 634.95l3.9 6.15l-3.9 6.15l-3.9 -6.15zM595.98 635.05l3.9 6.15l-3.9 6.15l-3.9 -6.15zM604.08 635.25l3.9 6.15l-3.9 6.15l-3.9 -6.15zM612.18 635.35l3.9 6.15l-3.9 6.15l-3.9 -6.15zM620.28 635.45l3.9 6.15l-3.9 6.15l-3.9 -6.15zM628.38 635.55l3.9 6.15l-3.9 6.15l-3.9 -6.15zM767.45 473.90l3.9 6.15l-3.9 6.15l-3.9 -6.15z" fill="none" stroke="#ff0000" stroke-width="0.72"/><polyline points="469.67,483.00 472.94,531.30 476.22,552.70 479.49,565.46 482.76,574.16 486.03,580.59 489.31,585.58 492.58,589.61 495.85,592.95 499.12,595.77 502.39,598.19 505.67,600.31 508.94,602.18 512.21,603.84 515.48,605.34 518.76,606.69 522.03,607.92 525.30,609.05 528.57,610.08 531.84,611.04 535.12,611.93 538.39,612.76 541.66,613.53 544.93,614.25 548.21,614.94 551.48,615.58 554.75,616.18 558.02,616.75 561.29,617.29 564.57,617.81 567.84,618.30 571.11,618.77 574.38,619.21 577.66,619.64 580.93,620.04 584.20,620.43 587.47,620.81 590.74,621.17 594.02,621.51 597.29,621.84 600.56,622.16 603.83,622.47 607.11,622.77 610.38,623.06 613.65,623.33 616.92,623.60 620.19,623.86 623.47,624.12 626.74,624.36 630.01,624.60 633.28,624.83 636.56,625.05 639.83,625.27 643.10,625.48 646.37,625.68 649.64,625.88 652.92,626.08 656.19,626.26 659.46,626.45 662.73,626.63 666.01,626.80 669.28,626.97 672.55,627.14 675.82,627.30 679.09,627.46 682.37,627.62 685.64,627.77 688.91,627.92 692.18,628.07 695.46,628.21 698.73,628.35 702.00,628.48 705.27,628.62 708.54,628.75 711.82,628.88 715.09,629.00 718.36,629.13 721.63,629.25 724.91,629.36 728.18,629.48 731.45,629.60 734.72,629.71 737.99,629.82 741.27,629.93 744.54,630.03 747.81,630.14 751.08,630.24 754.36,630.34 757.63,630.44 760.90,630.54 764.17,630.63 767.44,630.73 770.72,630.82 773.99,630.91 777.26,631.00 780.53,631.09 783.81,631.17 787.08,631.26 790.35,631.34" fill="none" stroke="#0000ff" stroke-width="0.75"/><path d="M506.89 647.92v-5.7M506.89 469.95v5.7M547.39 647.92v-5.7M547.39 469.95v5.7M587.88 647.92v-5.7M587.88 469.95v5.7M628.38 647.92v-5.7M628.38 469.95v5.7M668.87 647.92v-5.7M668.87 469.95v5.7M709.36 647.92v-5.7M709.36 469.95v5.7M749.86 647.92v-5.7M749.86 469.95v5.7M466.40 625.67h5.7M790.35 625.67h-5.7M466.40 603.43h5.7M790.35 603.43h-5.7M466.40 581.18h5.7M790.35 581.18h-5.7M466.40 558.94h5.7M790.35 558.94h-5.7M466.40 536.69h5.7M790.35 536.69h-5.7M466.40 514.44h5.7M790.35 514.44h-5.7M466.40 492.20h5.7M790.35 492.20h-5.7" stroke="#000" stroke-width="1.3" fill="none"/><rect x="466.40" y="469.95" width="323.95" height="177.97" fill="none" stroke="#000" stroke-width="1.8"/><text x="750.85" y="485.10" font-size="14.4" text-anchor="end" textLength="64.3" lengthAdjust="spacingAndGlyphs">numerical</text><text x="750.85" y="493.65" font-size="14.4" text-anchor="end" textLength="52.9" lengthAdjust="spacingAndGlyphs">analytic</text><path d="M755.45 489.45h25" stroke="#0000ff" stroke-width="0.75" fill="none"/></g>
<g><text x="91.20" y="872.67" font-size="15.2" text-anchor="end" letter-spacing="0.1">0</text><text x="91.20" y="847.25" font-size="15.2" text-anchor="end" letter-spacing="0.1">2</text><text x="91.20" y="821.82" font-size="15.2" text-anchor="end" letter-spacing="0.1">4</text><text x="91.20" y="796.40" font-size="15.2" text-anchor="end" letter-spacing="0.1">6</text><text x="91.20" y="770.97" font-size="15.2" text-anchor="end" letter-spacing="0.1">8</text><text x="91.20" y="745.55" font-size="15.2" text-anchor="end" letter-spacing="0.1">10</text><text x="91.20" y="720.12" font-size="15.2" text-anchor="end" letter-spacing="0.1">12</text><text x="91.20" y="694.70" font-size="15.2" text-anchor="end" letter-spacing="0.1">14</text><text x="98.45" y="882.87" font-size="15.2" text-anchor="middle">0</text><text x="138.31" y="882.87" font-size="15.2" text-anchor="middle">5</text><text x="178.16" y="882.87" font-size="15.2" text-anchor="middle">10</text><text x="218.02" y="882.87" font-size="15.2" text-anchor="middle">15</text><text x="257.88" y="882.87" font-size="15.2" text-anchor="middle">20</text><text x="297.73" y="882.87" font-size="15.2" text-anchor="middle">25</text><text x="337.59" y="882.87" font-size="15.2" text-anchor="middle">30</text><text x="377.44" y="882.87" font-size="15.2" text-anchor="middle">35</text><text x="417.30" y="882.87" font-size="15.2" text-anchor="middle">40</text><path d="M104.07 842.45l3.9 6.15l-3.9 6.15l-3.9 -6.15zM112.04 842.85l3.9 6.15l-3.9 6.15l-3.9 -6.15zM120.01 843.65l3.9 6.15l-3.9 6.15l-3.9 -6.15zM127.98 844.45l3.9 6.15l-3.9 6.15l-3.9 -6.15zM135.96 845.45l3.9 6.15l-3.9 6.15l-3.9 -6.15zM143.93 846.35l3.9 6.15l-3.9 6.15l-3.9 -6.15zM151.90 847.25l3.9 6.15l-3.9 6.15l-3.9 -6.15zM159.87 847.95l3.9 6.15l-3.9 6.15l-3.9 -6.15zM167.84 848.45l3.9 6.15l-3.9 6.15l-3.9 -6.15zM175.81 849.05l3.9 6.15l-3.9 6.15l-3.9 -6.15zM183.78 849.55l3.9 6.15l-3.9 6.15l-3.9 -6.15zM191.75 850.05l3.9 6.15l-3.9 6.15l-3.9 -6.15zM199.73 850.45l3.9 6.15l-3.9 6.15l-3.9 -6.15zM207.70 850.75l3.9 6.15l-3.9 6.15l-3.9 -6.15zM215.67 851.05l3.9 6.15l-3.9 6.15l-3.9 -6.15zM223.64 851.35l3.9 6.15l-3.9 6.15l-3.9 -6.15zM231.61 851.55l3.9 6.15l-3.9 6.15l-3.9 -6.15zM239.58 851.75l3.9 6.15l-3.9 6.15l-3.9 -6.15zM247.55 851.85l3.9 6.15l-3.9 6.15l-3.9 -6.15zM255.53 852.05l3.9 6.15l-3.9 6.15l-3.9 -6.15zM392.05 693.45l3.9 6.15l-3.9 6.15l-3.9 -6.15z" fill="none" stroke="#ff0000" stroke-width="0.72"/><polyline points="99.32,699.93 102.54,749.00 105.76,770.74 108.98,783.70 112.20,792.54 115.42,799.07 118.64,804.14 121.87,808.23 125.09,811.62 128.31,814.49 131.53,816.95 134.75,819.10 137.97,821.00 141.19,822.69 144.41,824.21 147.63,825.58 150.85,826.83 154.07,827.98 157.29,829.03 160.51,830.01 163.73,830.91 166.96,831.75 170.18,832.53 173.40,833.27 176.62,833.96 179.84,834.61 183.06,835.23 186.28,835.81 189.50,836.36 192.72,836.88 195.94,837.38 199.16,837.85 202.38,838.30 205.60,838.74 208.82,839.15 212.05,839.55 215.27,839.93 218.49,840.29 221.71,840.64 224.93,840.98 228.15,841.30 231.37,841.62 234.59,841.92 237.81,842.21 241.03,842.49 244.25,842.77 247.47,843.03 250.69,843.29 253.91,843.54 257.14,843.78 260.36,844.01 263.58,844.24 266.80,844.46 270.02,844.67 273.24,844.88 276.46,845.08 279.68,845.28 282.90,845.47 286.12,845.66 289.34,845.84 292.56,846.02 295.78,846.19 299.00,846.36 302.23,846.53 305.45,846.69 308.67,846.85 311.89,847.00 315.11,847.15 318.33,847.30 321.55,847.44 324.77,847.59 327.99,847.72 331.21,847.86 334.43,847.99 337.65,848.12 340.87,848.25 344.09,848.38 347.32,848.50 350.54,848.62 353.76,848.74 356.98,848.85 360.20,848.97 363.42,849.08 366.64,849.19 369.86,849.30 373.08,849.40 376.30,849.51 379.52,849.61 382.74,849.71 385.96,849.81 389.18,849.91 392.41,850.00 395.63,850.10 398.85,850.19 402.07,850.28 405.29,850.37 408.51,850.46 411.73,850.55 414.95,850.63" fill="none" stroke="#0000ff" stroke-width="0.75"/><path d="M135.96 867.47v-5.7M135.96 689.50v5.7M175.81 867.47v-5.7M175.81 689.50v5.7M215.67 867.47v-5.7M215.67 689.50v5.7M255.53 867.47v-5.7M255.53 689.50v5.7M295.38 867.47v-5.7M295.38 689.50v5.7M335.24 867.47v-5.7M335.24 689.50v5.7M375.09 867.47v-5.7M375.09 689.50v5.7M96.10 842.05h5.7M414.95 842.05h-5.7M96.10 816.62h5.7M414.95 816.62h-5.7M96.10 791.20h5.7M414.95 791.20h-5.7M96.10 765.77h5.7M414.95 765.77h-5.7M96.10 740.35h5.7M414.95 740.35h-5.7M96.10 714.92h5.7M414.95 714.92h-5.7" stroke="#000" stroke-width="1.3" fill="none"/><rect x="96.10" y="689.50" width="318.85" height="177.97" fill="none" stroke="#000" stroke-width="1.8"/><text x="375.45" y="704.65" font-size="14.4" text-anchor="end" textLength="64.3" lengthAdjust="spacingAndGlyphs">numerical</text><text x="375.45" y="713.20" font-size="14.4" text-anchor="end" textLength="52.9" lengthAdjust="spacingAndGlyphs">analytic</text><path d="M380.05 709.00h25" stroke="#0000ff" stroke-width="0.75" fill="none"/></g>
<g><text x="466.60" y="872.67" font-size="15.2" text-anchor="end" letter-spacing="0.1">0</text><text x="466.60" y="847.25" font-size="15.2" text-anchor="end" letter-spacing="0.1">2</text><text x="466.60" y="821.82" font-size="15.2" text-anchor="end" letter-spacing="0.1">4</text><text x="466.60" y="796.40" font-size="15.2" text-anchor="end" letter-spacing="0.1">6</text><text x="466.60" y="770.97" font-size="15.2" text-anchor="end" letter-spacing="0.1">8</text><text x="466.60" y="745.55" font-size="15.2" text-anchor="end" letter-spacing="0.1">10</text><text x="466.60" y="720.12" font-size="15.2" text-anchor="end" letter-spacing="0.1">12</text><text x="466.60" y="694.70" font-size="15.2" text-anchor="end" letter-spacing="0.1">14</text><text x="473.85" y="882.87" font-size="15.2" text-anchor="middle">0</text><text x="513.71" y="882.87" font-size="15.2" text-anchor="middle">5</text><text x="553.56" y="882.87" font-size="15.2" text-anchor="middle">10</text><text x="593.42" y="882.87" font-size="15.2" text-anchor="middle">15</text><text x="633.27" y="882.87" font-size="15.2" text-anchor="middle">20</text><text x="673.13" y="882.87" font-size="15.2" text-anchor="middle">25</text><text x="712.99" y="882.87" font-size="15.2" text-anchor="middle">30</text><text x="752.84" y="882.87" font-size="15.2" text-anchor="middle">35</text><text x="792.70" y="882.87" font-size="15.2" text-anchor="middle">40</text><path d="M479.47 859.25l3.9 6.15l-3.9 6.15l-3.9 -6.15zM487.44 857.95l3.9 6.15l-3.9 6.15l-3.9 -6.15zM495.41 856.95l3.9 6.15l-3.9 6.15l-3.9 -6.15zM503.38 856.25l3.9 6.15l-3.9 6.15l-3.9 -6.15zM511.36 855.85l3.9 6.15l-3.9 6.15l-3.9 -6.15zM519.33 855.55l3.9 6.15l-3.9 6.15l-3.9 -6.15zM527.30 855.45l3.9 6.15l-3.9 6.15l-3.9 -6.15zM535.27 855.35l3.9 6.15l-3.9 6.15l-3.9 -6.15zM543.24 855.35l3.9 6.15l-3.9 6.15l-3.9 -6.15zM551.21 855.45l3.9 6.15l-3.9 6.15l-3.9 -6.15zM559.18 855.55l3.9 6.15l-3.9 6.15l-3.9 -6.15zM567.15 855.75l3.9 6.15l-3.9 6.15l-3.9 -6.15zM575.13 855.95l3.9 6.15l-3.9 6.15l-3.9 -6.15zM583.10 856.05l3.9 6.15l-3.9 6.15l-3.9 -6.15zM591.07 856.15l3.9 6.15l-3.9 6.15l-3.9 -6.15zM599.04 856.25l3.9 6.15l-3.9 6.15l-3.9 -6.15zM607.01 856.35l3.9 6.15l-3.9 6.15l-3.9 -6.15zM614.98 856.55l3.9 6.15l-3.9 6.15l-3.9 -6.15zM622.95 856.65l3.9 6.15l-3.9 6.15l-3.9 -6.15zM630.92 856.65l3.9 6.15l-3.9 6.15l-3.9 -6.15zM767.45 693.45l3.9 6.15l-3.9 6.15l-3.9 -6.15z" fill="none" stroke="#ff0000" stroke-width="0.72"/><polyline points="474.72,699.93 477.94,749.00 481.16,770.74 484.38,783.70 487.60,792.54 490.82,799.07 494.04,804.14 497.27,808.23 500.49,811.62 503.71,814.49 506.93,816.95 510.15,819.10 513.37,821.00 516.59,822.69 519.81,824.21 523.03,825.58 526.25,826.83 529.47,827.98 532.69,829.03 535.91,830.01 539.13,830.91 542.36,831.75 545.58,832.53 548.80,833.27 552.02,833.96 555.24,834.61 558.46,835.23 561.68,835.81 564.90,836.36 568.12,836.88 571.34,837.38 574.56,837.85 577.78,838.30 581.00,838.74 584.22,839.15 587.45,839.55 590.67,839.93 593.89,840.29 597.11,840.64 600.33,840.98 603.55,841.30 606.77,841.62 609.99,841.92 613.21,842.21 616.43,842.49 619.65,842.77 622.87,843.03 626.09,843.29 629.31,843.54 632.54,843.78 635.76,844.01 638.98,844.24 642.20,844.46 645.42,844.67 648.64,844.88 651.86,845.08 655.08,845.28 658.30,845.47 661.52,845.66 664.74,845.84 667.96,846.02 671.18,846.19 674.40,846.36 677.63,846.53 680.85,846.69 684.07,846.85 687.29,847.00 690.51,847.15 693.73,847.30 696.95,847.44 700.17,847.59 703.39,847.72 706.61,847.86 709.83,847.99 713.05,848.12 716.27,848.25 719.49,848.38 722.72,848.50 725.94,848.62 729.16,848.74 732.38,848.85 735.60,848.97 738.82,849.08 742.04,849.19 745.26,849.30 748.48,849.40 751.70,849.51 754.92,849.61 758.14,849.71 761.36,849.81 764.58,849.91 767.81,850.00 771.03,850.10 774.25,850.19 777.47,850.28 780.69,850.37 783.91,850.46 787.13,850.55 790.35,850.63" fill="none" stroke="#0000ff" stroke-width="0.75"/><path d="M511.36 867.47v-5.7M511.36 689.50v5.7M551.21 867.47v-5.7M551.21 689.50v5.7M591.07 867.47v-5.7M591.07 689.50v5.7M630.92 867.47v-5.7M630.92 689.50v5.7M670.78 867.47v-5.7M670.78 689.50v5.7M710.64 867.47v-5.7M710.64 689.50v5.7M750.49 867.47v-5.7M750.49 689.50v5.7M471.50 842.05h5.7M790.35 842.05h-5.7M471.50 816.62h5.7M790.35 816.62h-5.7M471.50 791.20h5.7M790.35 791.20h-5.7M471.50 765.77h5.7M790.35 765.77h-5.7M471.50 740.35h5.7M790.35 740.35h-5.7M471.50 714.92h5.7M790.35 714.92h-5.7" stroke="#000" stroke-width="1.3" fill="none"/><rect x="471.50" y="689.50" width="318.85" height="177.97" fill="none" stroke="#000" stroke-width="1.8"/><text x="750.85" y="704.65" font-size="14.4" text-anchor="end" textLength="64.3" lengthAdjust="spacingAndGlyphs">numerical</text><text x="750.85" y="713.20" font-size="14.4" text-anchor="end" textLength="52.9" lengthAdjust="spacingAndGlyphs">analytic</text><path d="M755.45 709.00h25" stroke="#0000ff" stroke-width="0.75" fill="none"/></g>
<g><text x="91.20" y="1092.22" font-size="15.2" text-anchor="end" letter-spacing="0.1">0</text><text x="91.20" y="1076.04" font-size="15.2" text-anchor="end" letter-spacing="0.1">2</text><text x="91.20" y="1059.86" font-size="15.2" text-anchor="end" letter-spacing="0.1">4</text><text x="91.20" y="1043.68" font-size="15.2" text-anchor="end" letter-spacing="0.1">6</text><text x="91.20" y="1027.50" font-size="15.2" text-anchor="end" letter-spacing="0.1">8</text><text x="91.20" y="1011.32" font-size="15.2" text-anchor="end" letter-spacing="0.1">10</text><text x="91.20" y="995.15" font-size="15.2" text-anchor="end" letter-spacing="0.1">12</text><text x="91.20" y="978.97" font-size="15.2" text-anchor="end" letter-spacing="0.1">14</text><text x="91.20" y="962.79" font-size="15.2" text-anchor="end" letter-spacing="0.1">16</text><text x="91.20" y="946.61" font-size="15.2" text-anchor="end" letter-spacing="0.1">18</text><text x="91.20" y="930.43" font-size="15.2" text-anchor="end" letter-spacing="0.1">20</text><text x="91.20" y="914.25" font-size="15.2" text-anchor="end" letter-spacing="0.1">22</text><text x="98.45" y="1102.42" font-size="15.2" text-anchor="middle">0</text><text x="138.31" y="1102.42" font-size="15.2" text-anchor="middle">5</text><text x="178.16" y="1102.42" font-size="15.2" text-anchor="middle">10</text><text x="218.02" y="1102.42" font-size="15.2" text-anchor="middle">15</text><text x="257.88" y="1102.42" font-size="15.2" text-anchor="middle">20</text><text x="297.73" y="1102.42" font-size="15.2" text-anchor="middle">25</text><text x="337.59" y="1102.42" font-size="15.2" text-anchor="middle">30</text><text x="377.44" y="1102.42" font-size="15.2" text-anchor="middle">35</text><text x="417.30" y="1102.42" font-size="15.2" text-anchor="middle">40</text><path d="M104.07 1065.55l3.9 6.15l-3.9 6.15l-3.9 -6.15zM112.04 1065.95l3.9 6.15l-3.9 6.15l-3.9 -6.15zM120.01 1066.45l3.9 6.15l-3.9 6.15l-3.9 -6.15zM127.98 1066.85l3.9 6.15l-3.9 6.15l-3.9 -6.15zM135.96 1067.35l3.9 6.15l-3.9 6.15l-3.9 -6.15zM143.93 1068.05l3.9 6.15l-3.9 6.15l-3.9 -6.15zM151.90 1068.85l3.9 6.15l-3.9 6.15l-3.9 -6.15zM159.87 1069.35l3.9 6.15l-3.9 6.15l-3.9 -6.15zM167.84 1069.95l3.9 6.15l-3.9 6.15l-3.9 -6.15zM175.81 1070.45l3.9 6.15l-3.9 6.15l-3.9 -6.15zM183.78 1070.75l3.9 6.15l-3.9 6.15l-3.9 -6.15zM191.75 1071.15l3.9 6.15l-3.9 6.15l-3.9 -6.15zM199.73 1071.55l3.9 6.15l-3.9 6.15l-3.9 -6.15zM207.70 1071.75l3.9 6.15l-3.9 6.15l-3.9 -6.15zM215.67 1071.95l3.9 6.15l-3.9 6.15l-3.9 -6.15zM223.64 1072.15l3.9 6.15l-3.9 6.15l-3.9 -6.15zM231.61 1072.35l3.9 6.15l-3.9 6.15l-3.9 -6.15zM239.58 1072.45l3.9 6.15l-3.9 6.15l-3.9 -6.15zM247.55 1072.55l3.9 6.15l-3.9 6.15l-3.9 -6.15zM255.53 1072.75l3.9 6.15l-3.9 6.15l-3.9 -6.15zM392.05 913.00l3.9 6.15l-3.9 6.15l-3.9 -6.15z" fill="none" stroke="#ff0000" stroke-width="0.72"/><polyline points="99.32,920.43 102.54,969.22 105.76,990.84 108.98,1003.72 112.20,1012.52 115.42,1019.01 118.64,1024.05 121.87,1028.12 125.09,1031.49 128.31,1034.34 131.53,1036.79 134.75,1038.93 137.97,1040.82 141.19,1042.50 144.41,1044.01 147.63,1045.37 150.85,1046.62 154.07,1047.75 157.29,1048.80 160.51,1049.77 163.73,1050.67 166.96,1051.50 170.18,1052.28 173.40,1053.01 176.62,1053.70 179.84,1054.35 183.06,1054.96 186.28,1055.54 189.50,1056.08 192.72,1056.60 195.94,1057.10 199.16,1057.57 202.38,1058.02 205.60,1058.45 208.82,1058.86 212.05,1059.25 215.27,1059.63 218.49,1060.00 221.71,1060.34 224.93,1060.68 228.15,1061.00 231.37,1061.31 234.59,1061.62 237.81,1061.91 241.03,1062.19 244.25,1062.46 247.47,1062.72 250.69,1062.97 253.91,1063.22 257.14,1063.46 260.36,1063.69 263.58,1063.92 266.80,1064.14 270.02,1064.35 273.24,1064.56 276.46,1064.76 279.68,1064.95 282.90,1065.15 286.12,1065.33 289.34,1065.51 292.56,1065.69 295.78,1065.86 299.00,1066.03 302.23,1066.20 305.45,1066.36 308.67,1066.51 311.89,1066.67 315.11,1066.82 318.33,1066.96 321.55,1067.11 324.77,1067.25 327.99,1067.39 331.21,1067.52 334.43,1067.65 337.65,1067.78 340.87,1067.91 344.09,1068.04 347.32,1068.16 350.54,1068.28 353.76,1068.39 356.98,1068.51 360.20,1068.62 363.42,1068.73 366.64,1068.84 369.86,1068.95 373.08,1069.06 376.30,1069.16 379.52,1069.26 382.74,1069.36 385.96,1069.46 389.18,1069.56 392.41,1069.65 395.63,1069.75 398.85,1069.84 402.07,1069.93 405.29,1070.02 408.51,1070.11 411.73,1070.19 414.95,1070.28" fill="none" stroke="#0000ff" stroke-width="0.75"/><path d="M135.96 1087.02v-5.7M135.96 909.05v5.7M175.81 1087.02v-5.7M175.81 909.05v5.7M215.67 1087.02v-5.7M215.67 909.05v5.7M255.53 1087.02v-5.7M255.53 909.05v5.7M295.38 1087.02v-5.7M295.38 909.05v5.7M335.24 1087.02v-5.7M335.24 909.05v5.7M375.09 1087.02v-5.7M375.09 909.05v5.7M96.10 1070.84h5.7M414.95 1070.84h-5.7M96.10 1054.66h5.7M414.95 1054.66h-5.7M96.10 1038.48h5.7M414.95 1038.48h-5.7M96.10 1022.30h5.7M414.95 1022.30h-5.7M96.10 1006.12h5.7M414.95 1006.12h-5.7M96.10 989.95h5.7M414.95 989.95h-5.7M96.10 973.77h5.7M414.95 973.77h-5.7M96.10 957.59h5.7M414.95 957.59h-5.7M96.10 941.41h5.7M414.95 941.41h-5.7M96.10 925.23h5.7M414.95 925.23h-5.7" stroke="#000" stroke-width="1.3" fill="none"/><rect x="96.10" y="909.05" width="318.85" height="177.97" fill="none" stroke="#000" stroke-width="1.8"/><text x="375.45" y="924.20" font-size="14.4" text-anchor="end" textLength="64.3" lengthAdjust="spacingAndGlyphs">numerical</text><text x="375.45" y="932.75" font-size="14.4" text-anchor="end" textLength="52.9" lengthAdjust="spacingAndGlyphs">analytic</text><path d="M380.05 928.55h25" stroke="#0000ff" stroke-width="0.75" fill="none"/></g>
<g><text x="466.60" y="1092.22" font-size="15.2" text-anchor="end" letter-spacing="0.1">0</text><text x="466.60" y="1056.63" font-size="15.2" text-anchor="end" letter-spacing="0.1">5</text><text x="466.60" y="1021.03" font-size="15.2" text-anchor="end" letter-spacing="0.1">10</text><text x="466.60" y="985.44" font-size="15.2" text-anchor="end" letter-spacing="0.1">15</text><text x="466.60" y="949.84" font-size="15.2" text-anchor="end" letter-spacing="0.1">20</text><text x="466.60" y="914.25" font-size="15.2" text-anchor="end" letter-spacing="0.1">25</text><text x="473.85" y="1102.42" font-size="15.2" text-anchor="middle">0</text><text x="513.71" y="1102.42" font-size="15.2" text-anchor="middle">5</text><text x="553.56" y="1102.42" font-size="15.2" text-anchor="middle">10</text><text x="593.42" y="1102.42" font-size="15.2" text-anchor="middle">15</text><text x="633.27" y="1102.42" font-size="15.2" text-anchor="middle">20</text><text x="673.13" y="1102.42" font-size="15.2" text-anchor="middle">25</text><text x="712.99" y="1102.42" font-size="15.2" text-anchor="middle">30</text><text x="752.84" y="1102.42" font-size="15.2" text-anchor="middle">35</text><text x="792.70" y="1102.42" font-size="15.2" text-anchor="middle">40</text><path d="M479.47 1079.85l3.9 6.15l-3.9 6.15l-3.9 -6.15zM487.44 1079.05l3.9 6.15l-3.9 6.15l-3.9 -6.15zM495.41 1078.45l3.9 6.15l-3.9 6.15l-3.9 -6.15zM503.38 1077.85l3.9 6.15l-3.9 6.15l-3.9 -6.15zM511.36 1077.45l3.9 6.15l-3.9 6.15l-3.9 -6.15zM519.33 1077.25l3.9 6.15l-3.9 6.15l-3.9 -6.15zM527.30 1076.95l3.9 6.15l-3.9 6.15l-3.9 -6.15zM535.27 1076.85l3.9 6.15l-3.9 6.15l-3.9 -6.15zM543.24 1076.75l3.9 6.15l-3.9 6.15l-3.9 -6.15zM551.21 1076.75l3.9 6.15l-3.9 6.15l-3.9 -6.15zM559.18 1076.75l3.9 6.15l-3.9 6.15l-3.9 -6.15zM567.15 1076.75l3.9 6.15l-3.9 6.15l-3.9 -6.15zM575.13 1076.85l3.9 6.15l-3.9 6.15l-3.9 -6.15zM583.10 1076.95l3.9 6.15l-3.9 6.15l-3.9 -6.15zM591.07 1076.95l3.9 6.15l-3.9 6.15l-3.9 -6.15zM599.04 1077.05l3.9 6.15l-3.9 6.15l-3.9 -6.15zM607.01 1077.05l3.9 6.15l-3.9 6.15l-3.9 -6.15zM614.98 1077.15l3.9 6.15l-3.9 6.15l-3.9 -6.15zM622.95 1077.25l3.9 6.15l-3.9 6.15l-3.9 -6.15zM630.92 1077.35l3.9 6.15l-3.9 6.15l-3.9 -6.15zM767.45 913.00l3.9 6.15l-3.9 6.15l-3.9 -6.15z" fill="none" stroke="#ff0000" stroke-width="0.72"/><polyline points="474.72,940.42 477.94,983.36 481.16,1002.38 484.38,1013.72 487.60,1021.46 490.82,1027.17 494.04,1031.61 497.27,1035.19 500.49,1038.15 503.71,1040.66 506.93,1042.82 510.15,1044.70 513.37,1046.36 516.59,1047.84 519.81,1049.17 523.03,1050.37 526.25,1051.46 529.47,1052.47 532.69,1053.39 535.91,1054.24 539.13,1055.03 542.36,1055.76 545.58,1056.45 548.80,1057.10 552.02,1057.70 555.24,1058.27 558.46,1058.81 561.68,1059.32 564.90,1059.80 568.12,1060.25 571.34,1060.69 574.56,1061.10 577.78,1061.50 581.00,1061.88 584.22,1062.24 587.45,1062.59 590.67,1062.92 593.89,1063.24 597.11,1063.55 600.33,1063.84 603.55,1064.12 606.77,1064.40 609.99,1064.66 613.21,1064.92 616.43,1065.17 619.65,1065.41 622.87,1065.64 626.09,1065.86 629.31,1066.08 632.54,1066.29 635.76,1066.49 638.98,1066.69 642.20,1066.88 645.42,1067.07 648.64,1067.25 651.86,1067.43 655.08,1067.60 658.30,1067.77 661.52,1067.93 664.74,1068.09 667.96,1068.25 671.18,1068.40 674.40,1068.55 677.63,1068.70 680.85,1068.84 684.07,1068.97 687.29,1069.11 690.51,1069.24 693.73,1069.37 696.95,1069.50 700.17,1069.62 703.39,1069.74 706.61,1069.86 709.83,1069.98 713.05,1070.09 716.27,1070.20 719.49,1070.31 722.72,1070.42 725.94,1070.53 729.16,1070.63 732.38,1070.73 735.60,1070.83 738.82,1070.93 742.04,1071.02 745.26,1071.12 748.48,1071.21 751.70,1071.30 754.92,1071.39 758.14,1071.48 761.36,1071.57 764.58,1071.65 767.81,1071.74 771.03,1071.82 774.25,1071.90 777.47,1071.98 780.69,1072.06 783.91,1072.14 787.13,1072.21 790.35,1072.29" fill="none" stroke="#0000ff" stroke-width="0.75"/><path d="M511.36 1087.02v-5.7M511.36 909.05v5.7M551.21 1087.02v-5.7M551.21 909.05v5.7M591.07 1087.02v-5.7M591.07 909.05v5.7M630.92 1087.02v-5.7M630.92 909.05v5.7M670.78 1087.02v-5.7M670.78 909.05v5.7M710.64 1087.02v-5.7M710.64 909.05v5.7M750.49 1087.02v-5.7M750.49 909.05v5.7M471.50 1051.43h5.7M790.35 1051.43h-5.7M471.50 1015.83h5.7M790.35 1015.83h-5.7M471.50 980.24h5.7M790.35 980.24h-5.7M471.50 944.64h5.7M790.35 944.64h-5.7" stroke="#000" stroke-width="1.3" fill="none"/><rect x="471.50" y="909.05" width="318.85" height="177.97" fill="none" stroke="#000" stroke-width="1.8"/><text x="750.85" y="924.20" font-size="14.4" text-anchor="end" textLength="64.3" lengthAdjust="spacingAndGlyphs">numerical</text><text x="750.85" y="932.75" font-size="14.4" text-anchor="end" textLength="52.9" lengthAdjust="spacingAndGlyphs">analytic</text><path d="M755.45 928.55h25" stroke="#0000ff" stroke-width="0.75" fill="none"/></g>
<text x="255.12" y="1117" font-size="15" text-anchor="middle" textLength="35.5" lengthAdjust="spacingAndGlyphs">ℜ<tspan font-style="italic">δω</tspan><tspan font-style="italic" font-size="10" dy="2">n</tspan></text>
<text x="630.52" y="1117" font-size="15" text-anchor="middle" textLength="35.5" lengthAdjust="spacingAndGlyphs">ℑ<tspan font-style="italic">δω</tspan><tspan font-style="italic" font-size="10" dy="2">n</tspan></text>
</svg></body></html>
